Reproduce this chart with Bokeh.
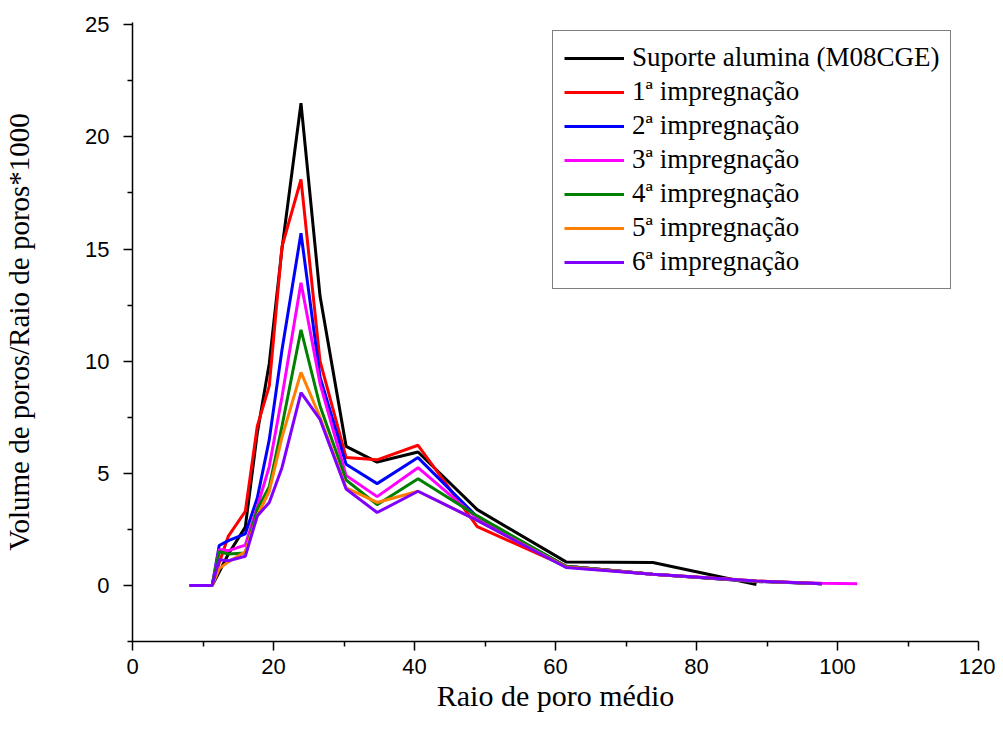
from bokeh.plotting import figure
from bokeh.models import FixedTicker, Range1d
from bokeh.embed import file_html
from bokeh.resources import INLINE

# Mean pore radius (x) values
x_all = [8.1, 11.3, 12.3, 13.6, 16.0, 17.7, 19.4, 21.2, 23.9, 26.6, 30.3, 34.7,
         40.5, 48.9, 61.5, 73.8, 88.5, 97.8, 102.8]

suporte = [0, 0, 0.6, 1.4, 2.6, 6.8, 9.9, 15.0, 21.5, 12.9, 6.2, 5.5, 5.95, 3.38,
           1.05, 1.02, 0.04]
imp1 = [0, 0, 1.0, 2.2, 3.3, 7.1, 8.9, 15.1, 18.1, 10.0, 5.7, 5.6, 6.25, 2.62,
        0.85, 0.5, 0.2, 0.08]
imp2 = [0, 0, 1.78, 2.0, 2.3, 3.9, 6.5, 10.5, 15.7, 9.3, 5.4, 4.54, 5.7, 3.05,
        0.85, 0.5, 0.18, 0.08]
imp3 = [0, 0, 1.6, 1.55, 1.8, 3.5, 5.3, 8.4, 13.5, 9.0, 4.9, 3.96, 5.25, 3.0,
        0.85, 0.5, 0.18, 0.1, 0.08]
imp4 = [0, 0, 1.5, 1.4, 1.45, 3.4, 4.4, 7.1, 11.4, 8.0, 4.7, 3.6, 4.76, 3.1,
        0.85, 0.5, 0.18, 0.08]
imp5 = [0, 0, 0.75, 1.05, 1.5, 3.1, 4.2, 6.6, 9.5, 7.5, 4.35, 3.7, 4.2, 2.9,
        0.82, 0.5, 0.2, 0.08]
imp6 = [0, 0, 1.15, 1.1, 1.3, 3.1, 3.7, 5.25, 8.6, 7.4, 4.3, 3.25, 4.2, 2.9,
        0.8, 0.5, 0.2, 0.08]

series = [
    ("Suporte alumina (M08CGE)", suporte, "#000000"),
    ("1ª impregnação", imp1, "#ff0000"),
    ("2ª impregnação", imp2, "#0000ff"),
    ("3ª impregnação", imp3, "#ff00ff"),
    ("4ª impregnação", imp4, "#008000"),
    ("5ª impregnação", imp5, "#ff8000"),
    ("6ª impregnação", imp6, "#8000ff"),
]

x_ticks = [0, 20, 40, 60, 80, 100, 120]
x_minor = [10, 30, 50, 70, 90, 110]
y_ticks = [0, 5, 10, 15, 20, 25]
y_minor = [-2.5, 2.5, 7.5, 12.5, 17.5, 22.5]

p = figure(width=995, height=732, output_backend="svg", toolbar_location=None,
           x_range=Range1d(0, 120), y_range=Range1d(-2.5, 25.1),
           min_border_left=131, min_border_right=17, min_border_top=22,
           min_border_bottom=91)
p.outline_line_color = None
p.xgrid.grid_line_color = None
p.ygrid.grid_line_color = None
p.background_fill_color = "white"

for name, ys, col in series:
    p.line(x_all[:len(ys)], ys, line_color=col, line_width=3, legend_label=name)

for ax in (p.xaxis[0], p.yaxis[0]):
    ax.axis_line_color = "black"
    ax.axis_line_width = 1.5
    ax.major_tick_line_color = "black"
    ax.major_tick_line_width = 1.5
    ax.minor_tick_line_color = "black"
    ax.minor_tick_line_width = 1.5
    ax.major_tick_out = 9
    ax.major_tick_in = 0
    ax.minor_tick_out = 5
    ax.minor_tick_in = 0
    ax.major_label_text_font = "Liberation Sans"
    ax.major_label_text_font_size = "22px"
    ax.major_label_text_color = "black"
    ax.axis_label_text_font = "Liberation Serif"
    ax.axis_label_text_font_style = "normal"
    ax.axis_label_text_color = "black"

p.xaxis[0].axis_label_text_font_size = "30px"
p.yaxis[0].axis_label_text_font_size = "29px"
p.xaxis[0].ticker = FixedTicker(ticks=x_ticks, minor_ticks=x_minor)
p.yaxis[0].ticker = FixedTicker(ticks=y_ticks, minor_ticks=y_minor)
p.xaxis[0].axis_label = "Raio de poro médio"
p.yaxis[0].axis_label = "Volume de poros/Raio de poros*1000"
p.xaxis[0].major_label_standoff = 8
p.yaxis[0].major_label_standoff = 14
p.xaxis[0].axis_label_standoff = 2
p.yaxis[0].axis_label_standoff = 47

lg = p.legend[0]
lg.location = (420, 352)
lg.border_line_color = "black"
lg.border_line_width = 1
lg.background_fill_alpha = 1
lg.label_text_font = "Liberation Serif"
lg.label_text_font_size = "27px"
lg.label_text_color = "black"
lg.glyph_width = 60
lg.glyph_height = 26
lg.label_height = 26
lg.spacing = 3
lg.padding = 11
lg.margin = 0
lg.label_standoff = 8

open("out.html", "w").write(file_html(p, INLINE))
